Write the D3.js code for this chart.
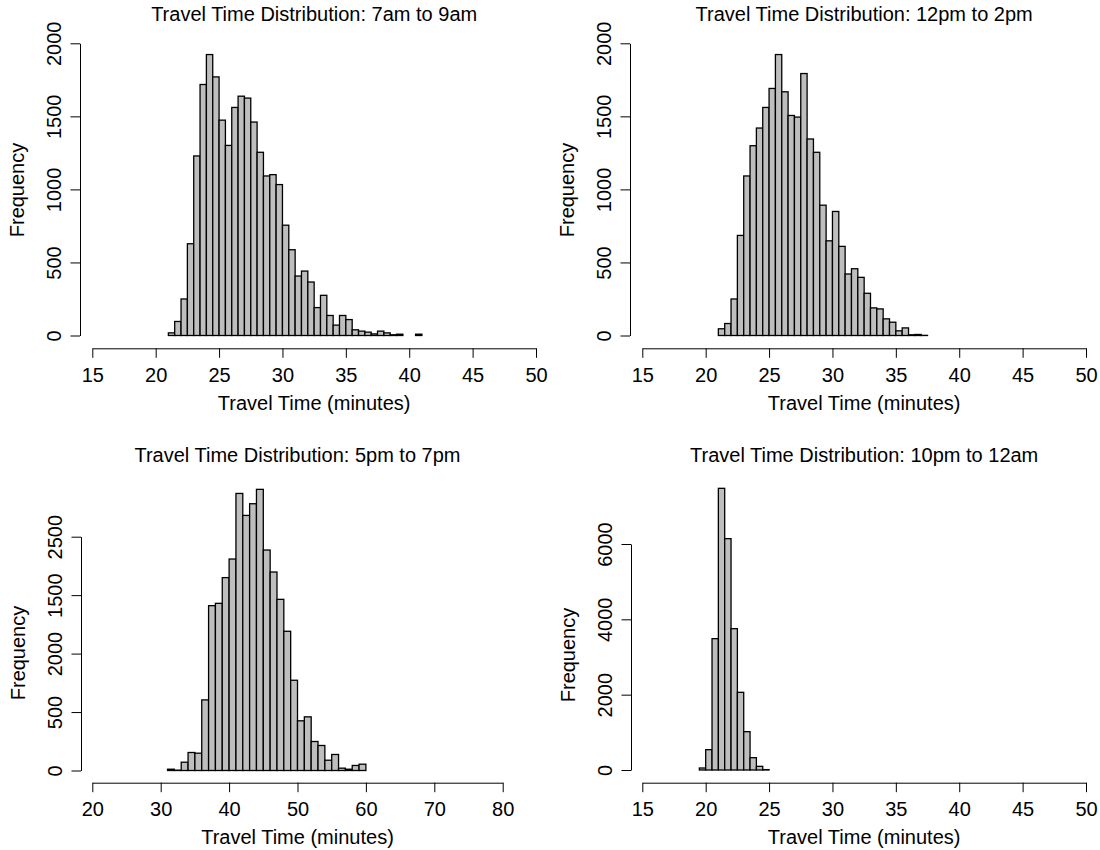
<!DOCTYPE html>
<html>
<head>
<meta charset="utf-8">
<script src="https://cdn.jsdelivr.net/npm/d3@7"></script>
<style>
  html, body { margin: 0; padding: 0; background: #fff; }
  svg { display: block; }
  text { font-family: "Liberation Sans", Arial, Helvetica, sans-serif; fill: #000; }
</style>
</head>
<body>
<svg id="chart" width="1100" height="850"></svg>
<script>
// Histogram counts per travel-time bin
const morningStart = 21, morningWidth = 0.5;
const morningCounts = [18, 96, 250, 628, 1229, 1718, 1923, 1770, 1474, 1301, 1561, 1638, 1625, 1461, 1254, 1092, 1101, 1033, 755, 587, 407, 441, 366, 191, 275, 137, 71, 137, 109, 39, 30, 23, 11, 30, 18, 5, 9, 0, 0, 9];

const middayStart = 21, middayWidth = 0.5;
const middayCounts = [46, 82, 250, 685, 1092, 1299, 1420, 1561, 1691, 1923, 1668, 1506, 1495, 1793, 1345, 1254, 892, 648, 849, 610, 421, 457, 398, 289, 189, 182, 114, 91, 32, 52, 5, 7, 1, 0];

const eveningStart = 31, eveningWidth = 1;
const eveningCounts = [11, 3, 71, 154, 148, 604, 1410, 1430, 1650, 1809, 2370, 2182, 2282, 2405, 1886, 1698, 1464, 1191, 772, 425, 459, 248, 214, 88, 137, 20, 11, 43, 54];

const lateStart = 19.5, lateWidth = 0.5;
const lateCounts = [53, 540, 3487, 7478, 6142, 3752, 2062, 1018, 327, 97, 10];

// Axis ticks and labels
const xTicksA = [15, 20, 25, 30, 35, 40, 45, 50];
const xTicksB = [20, 30, 40, 50, 60, 70, 80];
const yTicksA = [0, 500, 1000, 1500, 2000];
const yLabelsA = ["0", "500", "1000", "1500", "2000"];
const yTicksB = [0, 500, 1000, 1500, 2000];
const yLabelsB = ["0", "500", "2000", "1500", "2500"];
const yTicksC = [0, 2000, 4000, 6000];
const yLabelsC = ["0", "2000", "4000", "6000"];

const titles = [
  "Travel Time Distribution: 7am to 9am",
  "Travel Time Distribution: 12pm to 2pm",
  "Travel Time Distribution: 5pm to 7pm",
  "Travel Time Distribution: 10pm to 12am"
];
const xTitle = "Travel Time (minutes)";
const yTitle = "Frequency";

// Panel geometry
const panels = [
  { counts: morningCounts, start: morningStart, width: morningWidth, title: titles[0],
    xDomain: [15, 50], xRange: [92.3, 536], xTicks: xTicksA,
    yDomain: [0, 2000], yRange: [335.5, 43.3], yTicks: yTicksA, yLabels: yLabelsA,
    yAxisX: 80, xAxisY: 348.3, titleY: 21, yTitleY: 190 },
  { counts: middayCounts, start: middayStart, width: middayWidth, title: titles[1],
    xDomain: [15, 50], xRange: [642.3, 1086], xTicks: xTicksA,
    yDomain: [0, 2000], yRange: [335.5, 43.3], yTicks: yTicksA, yLabels: yLabelsA,
    yAxisX: 630, xAxisY: 348.3, titleY: 21, yTitleY: 190 },
  { counts: eveningCounts, start: eveningStart, width: eveningWidth, title: titles[2],
    xDomain: [20, 80], xRange: [92.3, 502.7], xTicks: xTicksB,
    yDomain: [0, 2000], yRange: [770.5, 536.7], yTicks: yTicksB, yLabels: yLabelsB,
    yAxisX: 81, xAxisY: 782.7, titleY: 462, yTitleY: 653 },
  { counts: lateCounts, start: lateStart, width: lateWidth, title: titles[3],
    xDomain: [15, 50], xRange: [642.3, 1086], xTicks: xTicksA,
    yDomain: [0, 6000], yRange: [770, 544], yTicks: yTicksC, yLabels: yLabelsC,
    yAxisX: 631, xAxisY: 782.7, titleY: 462, yTitleY: 655 }
];

const svg = d3.select("#chart");
const FONT = 20;

panels.forEach(p => {
  const x = d3.scaleLinear().domain(p.xDomain).range(p.xRange);
  const y = d3.scaleLinear().domain(p.yDomain).range(p.yRange);
  const g = svg.append("g");

  const bins = p.counts.map((c, i) => ({ x0: p.start + i * p.width, x1: p.start + (i + 1) * p.width, count: c }));

  // bars
  g.append("g").selectAll("rect")
    .data(bins)
    .join("rect")
    .attr("x", d => x(d.x0))
    .attr("width", d => x(d.x1) - x(d.x0))
    .attr("y", d => y(d.count))
    .attr("height", d => y(0) - y(d.count))
    .attr("fill", "#bebebe")
    .attr("stroke", "#000")
    .attr("stroke-width", 1.3);

  // x axis
  const xAxis = g.append("g")
    .attr("transform", `translate(0,${p.xAxisY})`)
    .call(d3.axisBottom(x).tickValues(p.xTicks).tickSize(9.5).tickSizeOuter(0).tickFormat(d3.format("d")));
  xAxis.attr("font-size", null).attr("font-family", null).style("color", "#000");
  xAxis.selectAll("text").attr("y", null).attr("dy", null)
    .attr("transform", "translate(0,33.7)")
    .style("font-size", FONT + "px");

  // y axis with rotated labels
  const yAxis = g.append("g")
    .attr("transform", `translate(${p.yAxisX},0)`)
    .call(d3.axisLeft(y).tickValues(p.yTicks).tickSize(9.5).tickSizeOuter(0)
      .tickFormat((d, i) => p.yLabels[i]));
  yAxis.attr("font-size", null).attr("font-family", null).style("color", "#000");
  yAxis.selectAll("text").attr("x", null).attr("dy", null)
    .attr("text-anchor", "middle")
    .attr("transform", "translate(-19.5,0) rotate(-90)")
    .style("font-size", FONT + "px");

  const cx = (x(p.xDomain[0]) + x(p.xDomain[1])) / 2;

  // titles
  g.append("text")
    .attr("x", cx).attr("y", p.titleY)
    .attr("text-anchor", "middle")
    .style("font-size", FONT + "px")
    .text(p.title);

  g.append("text")
    .attr("x", cx).attr("y", p.xAxisY + 61.3)
    .attr("text-anchor", "middle")
    .style("font-size", FONT + "px")
    .text(xTitle);

  g.append("text")
    .attr("transform", `translate(${p.yAxisX - 56},${p.yTitleY}) rotate(-90)`)
    .attr("text-anchor", "middle")
    .style("font-size", FONT + "px")
    .text(yTitle);
});
</script>
</body>
</html>
